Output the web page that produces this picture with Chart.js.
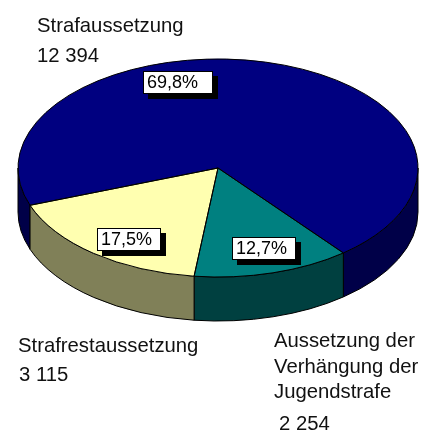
<!DOCTYPE html>
<html><head><meta charset="utf-8">
<style>html,body{margin:0;padding:0;background:#fff}#w{position:absolute;left:0;top:0;width:424px;height:432px}</style>
<script src="https://cdn.jsdelivr.net/npm/chart.js@4/dist/chart.umd.min.js"></script>
</head><body><div id="w"><canvas id="c" width="424" height="432"></canvas></div>
<script>
const categories = ["Strafaussetzung", "Aussetzung der Verhängung der Jugendstrafe", "Strafrestaussetzung"];
const values = [12394, 2254, 3115];
const percentLabels = ["69,8%", "12,7%", "17,5%"];
const topColors = ["#000080", "#008080", "#FFFFB0"];
const sideColors = ["#000048", "#004040", "#808058"];

const CY = 168, CY0 = 216, K = 109 / 200, DEPTH = 44 / K;
const FONT = '20.3px "Liberation Sans", Arial, sans-serif';
const LABELFONT = '18px "Liberation Sans", Arial, sans-serif';
const boxes = [
  {x:143,y:71,w:70,h:23,tx:147},
  {x:232,y:237,w:64,h:23,tx:236},
  {x:97,y:228,w:64,h:23,tx:101}
];
const texts = [
  ["Strafaussetzung",37,32],[ "12 394",37,62],
  ["Strafrestaussetzung",18,352],["3 115",19,381],
  ["Aussetzung der",274,347],["Verhängung der",274,373],["Jugendstrafe",274,398],["2 254",279,430]
];
function squash(ctx){ ctx.translate(0,CY); ctx.scale(1,K); ctx.translate(0,-CY0); }

const pie3d = {
  id:'pie3d',
  beforeDatasetsDraw(chart){
    const ctx = chart.ctx, arcs = chart.getDatasetMeta(0).data;
    arcs.forEach((a,i)=>{
      [0,2*Math.PI].forEach(off=>{
        const s = Math.max(a.startAngle-off,0), e = Math.min(a.endAngle-off,Math.PI);
        if(e<=s) return;
        ctx.save(); squash(ctx);
        ctx.beginPath();
        ctx.arc(a.x,a.y,a.outerRadius,s,e);
        ctx.lineTo(a.x+a.outerRadius*Math.cos(e),a.y+a.outerRadius*Math.sin(e)+DEPTH);
        ctx.arc(a.x,a.y+DEPTH,a.outerRadius,e,s,true);
        ctx.closePath();
        ctx.restore();
        ctx.fillStyle = sideColors[i]; ctx.fill();
        ctx.strokeStyle='#000'; ctx.lineWidth=1; ctx.stroke();
      });
    });
    ctx.save(); squash(ctx);
  },
  afterDatasetsDraw(chart){
    const ctx = chart.ctx, arcs = chart.getDatasetMeta(0).data;
    ctx.restore();
    arcs.forEach(a=>{
      ctx.save(); squash(ctx);
      ctx.beginPath();
      ctx.moveTo(a.x,a.y);
      ctx.arc(a.x,a.y,a.outerRadius,a.startAngle,a.endAngle);
      ctx.closePath();
      ctx.restore();
      ctx.strokeStyle='#000'; ctx.lineWidth=1; ctx.stroke();
    });
    ctx.textBaseline='alphabetic'; ctx.textAlign='left';
    boxes.forEach((b,i)=>{
      ctx.fillStyle='#000'; ctx.fillRect(b.x+5,b.y+5,b.w,b.h);
      ctx.fillStyle='#fff'; ctx.fillRect(b.x,b.y,b.w,b.h);
      ctx.strokeStyle='#000'; ctx.lineWidth=1; ctx.strokeRect(b.x+.5,b.y+.5,b.w-1,b.h-1);
      ctx.fillStyle='#000'; ctx.font=LABELFONT; ctx.fillText(percentLabels[i],b.tx,b.y+17);
    });
    ctx.font=FONT; ctx.fillStyle='#111';
    texts.forEach(t=>ctx.fillText(t[0],t[1],t[2]));
  }
};

new Chart(document.getElementById('c'),{
  type:'pie',
  data:{labels:categories,datasets:[{data:values,backgroundColor:topColors,borderWidth:0}]},
  options:{
    responsive:false,animation:false,rotation:250,
    layout:{padding:{left:18,right:6,top:16,bottom:16}},
    plugins:{legend:{display:false},tooltip:{enabled:false},title:{display:false}}
  },
  plugins:[pie3d]
});
</script></body></html>
